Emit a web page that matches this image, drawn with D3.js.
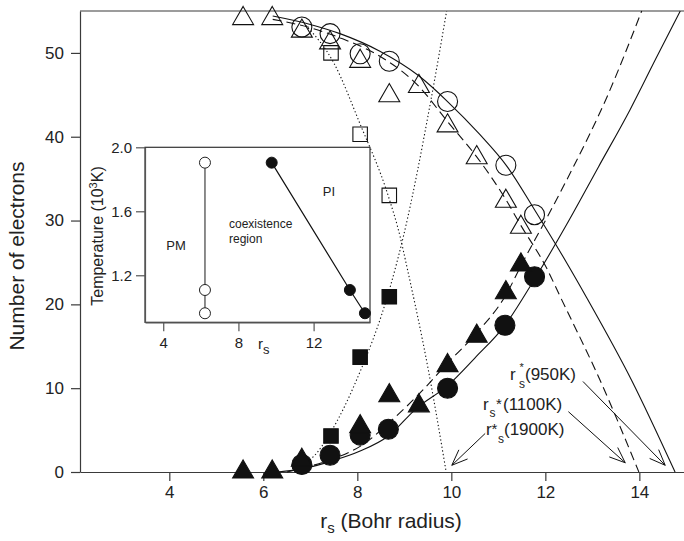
<!doctype html>
<html>
<head>
  <meta charset="utf-8">
  <title>Number of electrons vs rs</title>
  <style>
    body { margin: 0; background: #fff; }
    svg text { font-family: "Liberation Sans", Arial, sans-serif; fill: #222; }
  </style>
</head>
<body>
  <div id="vis"></div>

  <script src="https://cdn.jsdelivr.net/npm/d3@7/dist/d3.min.js"></script>
  <script>

    // main panel data (rs in Bohr radius, number of electrons)
    var xTicks = [4, 6, 8, 10, 12, 14];
    var yTicks = [0, 10, 20, 30, 40, 50];

    var openCircles = [[6.82,53.1],[7.42,52.3],[8.06,49.9],[8.68,49.0],[9.92,44.2],[11.16,36.6],[11.77,30.7]];
    var filledCircles = [[6.82,0.9],[7.42,2.0],[8.06,4.4],[8.66,5.1],[9.92,10.0],[11.14,17.5],[11.77,23.3]];
    var openTriangles = [[5.57,54.1],[6.19,54.1],[6.82,52.6],[7.42,51.2],[8.06,49.0],[8.68,44.9],[9.31,46.0],[9.92,41.3],[10.54,37.5],[11.16,32.3],[11.48,29.2]];
    var filledTriangles = [[5.57,0],[6.19,0],[6.82,1.4],[8.06,5.4],[8.68,9.1],[9.31,7.9],[9.92,12.7],[10.54,16.2],[11.16,21.4],[11.48,24.7]];
    var openSquares = [[7.44,50.0],[8.06,40.3],[8.68,33.0]];
    var filledSquares = [[7.44,4.3],[8.06,13.7],[8.68,20.9]];

    // fitted curves
    var solidDown = [[6.2,54.4],[7.0,53.4],[7.63,52.3],[8.48,50.2],[9.3,47.3],[9.92,44.2],[10.6,40.3],[11.18,36.5],[11.78,31.2],[12.45,25.0],[12.88,20.8],[13.84,10.9],[14.76,0]];
    var dashedDown = [[6.2,54.0],[7.0,53.0],[7.63,51.8],[8.48,49.6],[9.31,46.0],[9.92,41.8],[10.54,37.6],[11.16,32.5],[11.47,29.5],[12.03,24.3],[12.31,21.0],[13.16,11.0],[13.99,0]];
    var solidUp = [[6.3,0],[6.85,0.4],[7.45,1.3],[8.06,2.5],[8.66,4.3],[9.26,7.6],[9.92,10.3],[10.5,13.6],[11.14,17.5],[11.77,23.0],[12.45,29.5],[13.13,36.4],[13.8,43.2],[14.35,49.3],[14.87,55]];
    var dashedUp = [[6.5,0],[7.0,0.7],[7.6,1.8],[8.1,3.2],[8.7,6.0],[9.33,9.4],[9.92,13.0],[10.54,16.6],[11.18,21.3],[11.48,24.6],[12.03,30.3],[12.56,36.0],[13.3,44.6],[14.05,55]];
    var dottedDown = [[6.9,53.3],[7.5,48.8],[8.06,41.5],[8.66,32.9],[8.91,28.1],[9.05,24.6],[9.51,12.2],[9.89,0]];
    var dottedUp = [[6.85,1.0],[7.06,1.8],[7.44,4.8],[7.97,10.8],[8.70,22.1],[8.98,28.1],[9.58,44.8],[9.9,55]];

    // arrows: [from, to] in data units
    var arrows = [
      [[12.80,10.8],[14.55,0.8]],
      [[12.49,7.2],[13.70,1.1]],
      [[10.72,4.6],[10.01,0.8]]
    ];

    // inset data (rs, temperature in 10^3 K)
    var insetXTicks = [4, 8, 12];
    var insetYTicks = [1.2, 1.6, 2.0];
    var pmRs = [6.22, 6.22, 6.22];
    var pmT = [1.904, 1.108, 0.9625];
    var piRs = [9.77, 13.93, 14.73];
    var piT = [1.904, 1.108, 0.9625];

    var w = 684, h = 541;

    var svg = d3.select("#vis").append("svg")
                .attr("width", w)
                .attr("height", h);

    var x = d3.scaleLinear().domain([2.1, 14.95]).range([80, 684]);
    var y = d3.scaleLinear().domain([0, 55]).range([472, 11]);

    var axisColor = "#3a3a3a";

    // frame top line
    svg.append("line")
       .attr("x1", x.range()[0]).attr("x2", x.range()[1])
       .attr("y1", y(55)).attr("y2", y(55))
       .attr("stroke", axisColor).attr("stroke-width", 1.2);

    var gx = svg.append("g")
       .attr("transform", "translate(0," + y(0) + ")")
       .call(d3.axisBottom(x).tickValues(xTicks).tickSize(9).tickSizeOuter(0).tickPadding(5));
    var gy = svg.append("g")
       .attr("transform", "translate(" + x(2.1) + ",0)")
       .call(d3.axisLeft(y).tickValues(yTicks).tickSize(9).tickSizeOuter(0).tickPadding(7));

    [gx, gy].forEach(function(g){
      g.selectAll("path, line").attr("stroke", axisColor).attr("stroke-width", 1.2);
      g.selectAll("text").style("font-size", "17px").attr("fill", "#222");
    });

    // axis titles
    var xt = svg.append("text")
       .attr("x", 391).attr("y", 528)
       .attr("text-anchor", "middle")
       .style("font-size", "21px");
    xt.append("tspan").text("r");
    xt.append("tspan").attr("dy", 5).style("font-size", "15px").text("s");
    xt.append("tspan").attr("dy", -5).text(" (Bohr radius)");

    svg.append("text")
       .attr("transform", "translate(24,256) rotate(-90)")
       .attr("text-anchor", "middle")
       .style("font-size", "21px")
       .text("Number of electrons");

    // curves
    var line = d3.line()
                 .x(function(d){ return x(d[0]); })
                 .y(function(d){ return y(d[1]); })
                 .curve(d3.curveMonotoneX);

    var curves = [
      {data: solidDown, dash: null},
      {data: solidUp, dash: null},
      {data: dashedDown, dash: "9,5"},
      {data: dashedUp, dash: "9,5"},
      {data: dottedDown, dash: "1.3,2.4"},
      {data: dottedUp, dash: "1.3,2.4"}
    ];

    svg.selectAll("path.curve")
       .data(curves)
       .enter()
       .append("path")
       .attr("class", "curve")
       .attr("d", function(d){ return line(d.data); })
       .attr("fill", "none")
       .attr("stroke", "#111")
       .attr("stroke-width", 1.1)
       .attr("stroke-dasharray", function(d){ return d.dash; });

    // markers
    function addCircles(data, filled){
      svg.append("g").selectAll("circle")
         .data(data)
         .enter()
         .append("circle")
         .attr("cx", function(d){ return x(d[0]); })
         .attr("cy", function(d){ return y(d[1]); })
         .attr("r", 10)
         .attr("fill", filled ? "#111" : "none")
         .attr("stroke", "#111")
         .attr("stroke-width", 1.1);
    }

    function addSymbols(data, type, size, filled){
      svg.append("g").selectAll("path")
         .data(data)
         .enter()
         .append("path")
         .attr("transform", function(d){ return "translate(" + x(d[0]) + "," + y(d[1]) + ")"; })
         .attr("d", d3.symbol().type(type).size(size))
         .attr("fill", filled ? "#111" : "none")
         .attr("stroke", "#111")
         .attr("stroke-width", 1.1);
    }

    addSymbols(openSquares, d3.symbolSquare, 210, false);
    addSymbols(openTriangles, d3.symbolTriangle, 190, false);
    addCircles(openCircles, false);
    addCircles(filledCircles, true);
    addSymbols(filledTriangles, d3.symbolTriangle, 190, true);
    addSymbols(filledSquares, d3.symbolSquare, 210, true);

    // arrows with open heads
    arrows.forEach(function(a){
      var x1 = x(a[0][0]), y1 = y(a[0][1]), x2 = x(a[1][0]), y2 = y(a[1][1]);
      var ang = Math.atan2(y2 - y1, x2 - x1);
      var len = 17, spread = 0.38;
      svg.append("line")
         .attr("x1", x1).attr("y1", y1).attr("x2", x2).attr("y2", y2)
         .attr("stroke", "#111").attr("stroke-width", 1);
      svg.append("path")
         .attr("d", "M" + (x2 - len * Math.cos(ang - spread)) + "," + (y2 - len * Math.sin(ang - spread)) +
                    "L" + x2 + "," + y2 +
                    "L" + (x2 - len * Math.cos(ang + spread)) + "," + (y2 - len * Math.sin(ang + spread)))
         .attr("fill", "none")
         .attr("stroke", "#111").attr("stroke-width", 1);
    });

    // arrow labels
    function part(px, py, txt, size){
      svg.append("text").attr("x", px).attr("y", py).style("font-size", size + "px").text(txt);
    }
    part(510, 380, "r", 17); part(519.5, 371, "*", 11); part(519, 388, "s", 12); part(525, 380, "(950K)", 17);
    part(483, 410, "r", 17); part(489.5, 417, "s", 12); part(496, 409, "*", 15); part(503, 410, "(1100K)", 17);
    part(486, 435, "r", 17); part(491.5, 434, "*", 15); part(498, 443, "s", 12); part(504, 435, "(1900K)", 17);

    // inset
    var xi = d3.scaleLinear().domain([3.03, 15.0]).range([145, 370]);
    var yi = d3.scaleLinear().domain([0.906, 2.0]).range([322.3, 147.3]);

    var inset = svg.append("g");

    inset.append("rect")
         .attr("x", xi(3.03)).attr("y", yi(2.0))
         .attr("width", xi(15.0) - xi(3.03))
         .attr("height", yi(0.906) - yi(2.0))
         .attr("fill", "#fff")
         .attr("stroke", "#333")
         .attr("stroke-width", 1.2);

    var gxi = inset.append("g")
         .attr("transform", "translate(0," + yi(0.906) + ")")
         .call(d3.axisBottom(xi).tickValues(insetXTicks).tickSize(9).tickSizeOuter(0).tickPadding(6));
    var gyi = inset.append("g")
         .attr("transform", "translate(" + xi(3.03) + ",0)")
         .call(d3.axisLeft(yi).tickValues(insetYTicks).tickFormat(d3.format(".1f")).tickSize(9).tickSizeOuter(0).tickPadding(4));

    [gxi, gyi].forEach(function(g){
      g.selectAll("path, line").attr("stroke", "#555").attr("stroke-width", 1.2);
      g.selectAll("text").style("font-size", "15px").attr("fill", "#222");
    });

    var rsl = inset.append("text").attr("x", 258).attr("y", 349).style("font-size", "15px");
    rsl.append("tspan").text("r");
    rsl.append("tspan").attr("dy", 5).style("font-size", "13px").text("s");

    var tl = inset.append("text")
         .attr("transform", "translate(103,236) rotate(-90)")
         .attr("text-anchor", "middle")
         .style("font-size", "16px");
    tl.append("tspan").text("Temperature (10");
    tl.append("tspan").attr("dy", -6).style("font-size", "11px").text("3");
    tl.append("tspan").attr("dy", 6).text("K)");

    var pm = d3.zip(pmRs, pmT), pi = d3.zip(piRs, piT);
    var iline = d3.line().x(function(d){ return xi(d[0]); }).y(function(d){ return yi(d[1]); });

    inset.append("path").attr("d", iline(pm)).attr("fill", "none").attr("stroke", "#666").attr("stroke-width", 1.5);
    inset.append("path").attr("d", iline(pi)).attr("fill", "none").attr("stroke", "#111").attr("stroke-width", 1.2);

    inset.append("g").selectAll("circle")
         .data(pm).enter().append("circle")
         .attr("cx", function(d){ return xi(d[0]); })
         .attr("cy", function(d){ return yi(d[1]); })
         .attr("r", 5.5)
         .attr("fill", "#fff").attr("stroke", "#222").attr("stroke-width", 1);
    inset.append("g").selectAll("circle")
         .data(pi).enter().append("circle")
         .attr("cx", function(d){ return xi(d[0]); })
         .attr("cy", function(d){ return yi(d[1]); })
         .attr("r", 5.5)
         .attr("fill", "#111").attr("stroke", "#111");

    inset.append("text").attr("x", 176).attr("y", 250).attr("text-anchor", "middle").style("font-size", "13px").text("PM");
    inset.append("text").attr("x", 229).attr("y", 228).style("font-size", "12px").text("coexistence");
    inset.append("text").attr("x", 229).attr("y", 243).style("font-size", "12px").text("region");
    inset.append("text").attr("x", 329).attr("y", 196).attr("text-anchor", "middle").style("font-size", "13px").text("PI");

  </script>
</body>
</html>
